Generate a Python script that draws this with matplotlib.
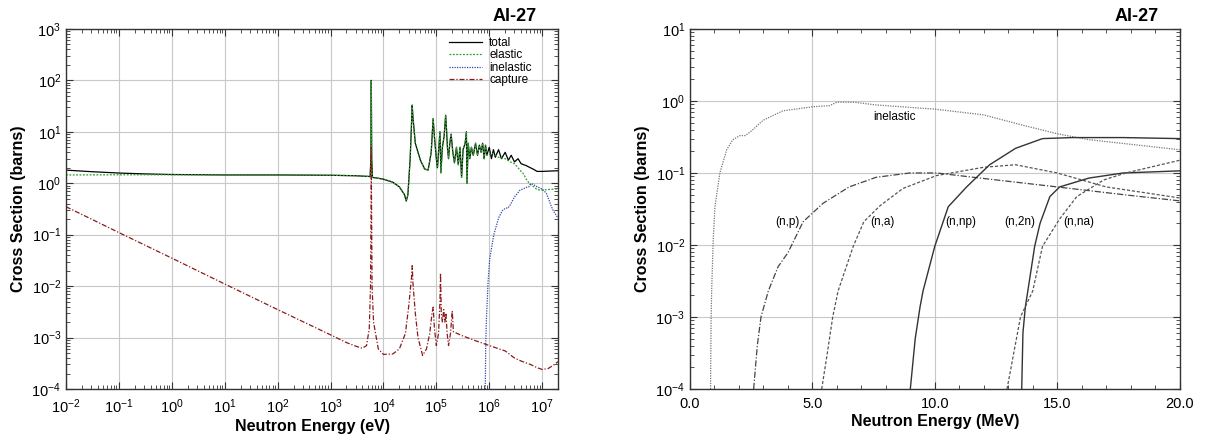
import numpy as np
import matplotlib
matplotlib.use('Agg')
import matplotlib.pyplot as plt
from matplotlib.ticker import LogLocator, MultipleLocator, FormatStrFormatter, NullFormatter

plt.rcParams['font.family'] = ['Liberation Sans', 'DejaVu Sans']
plt.rcParams['mathtext.default'] = 'regular'

# ---- linker grafiek: werkzame doorsneden in eV ----
total_e = [1e-2, 3e-2, 1e-1, 3e-1, 1, 10, 100, 1e3, 3e3, 5e3, 5.6e3, 5.8e3, 5.9e3, 6.0e3, 6.2e3,
           8e3, 1e4, 1.5e4, 2e4, 2.5e4, 2.7e4, 2.9e4, 3.2e4, 3.4e4, 3.5e4, 3.6e4, 4e4, 5e4, 6e4,
           7e4, 8e4, 8.7e4, 9.2e4, 1.0e5, 1.05e5, 1.1e5, 1.17e5, 1.22e5, 1.3e5, 1.4e5, 1.5e5,
           1.55e5, 1.62e5, 1.7e5, 1.8e5, 1.9e5, 2.05e5, 2.2e5, 2.4e5, 2.6e5, 2.8e5, 3.0e5, 3.2e5,
           3.5e5, 3.7e5, 3.8e5, 4.0e5, 4.3e5, 4.6e5, 5e5, 5.5e5, 6e5, 6.5e5, 7e5, 7.5e5, 8e5,
           8.5e5, 9e5, 1e6, 1.1e6, 1.2e6, 1.3e6, 1.5e6, 1.7e6, 2e6, 2.3e6, 2.6e6, 3e6, 3.5e6,
           4e6, 5e6, 6e6, 7e6, 8e6, 1e7, 1.3e7, 2e7]
total_v = [1.8, 1.68, 1.58, 1.52, 1.48, 1.45, 1.45, 1.43, 1.40, 1.36, 1.35, 3.0, 100, 3.0, 1.3,
           1.25, 1.2, 1.05, 0.85, 0.6, 0.45, 0.6, 3.0, 15, 33, 20, 6.0, 2.8, 1.9,
           1.8, 4.0, 18, 8.0, 3.0, 2.0, 4.0, 10, 1.6, 5.0, 8.0, 21,
           12, 5.0, 3.0, 6.0, 9.0, 4.0, 2.5, 5.0, 2.3, 5.0, 1.3, 4.5,
           6.0, 10, 1.0, 6.0, 3.0, 5.0, 3.5, 6.0, 3.5, 5.5, 4.0, 6.0, 3.0,
           5.5, 3.5, 5.0, 3.0, 4.5, 3.2, 4.5, 3.0, 4.0, 2.8, 3.5, 2.6, 3.0,
           2.4, 2.2, 2.0, 1.85, 1.7, 1.7, 1.72, 1.75]

# elastisch valt samen met totaal in het resonantiegebied (5.6 keV t/m 1 MeV)
elastic_low_e = [1e-2, 1e-1, 1, 10, 100, 1e3, 3e3, 5e3]
elastic_low_v = [1.45, 1.46, 1.46, 1.45, 1.45, 1.43, 1.40, 1.36]
elastic_high_e = [1.2e6, 1.5e6, 2e6, 2.5e6, 3e6, 3.5e6, 4e6, 4.5e6, 5e6, 5.5e6, 6e6, 7e6, 8e6, 1e7, 2e7]
elastic_high_v = [3.8, 3.2, 3.0, 2.6, 2.4, 2.0, 1.7, 1.5, 1.2, 1.05, 0.95, 0.85, 0.75, 0.74, 0.78]

capture_e = [1e-2, 1e-1, 1, 10, 100, 1e3, 2e3, 3e3, 4e3, 4.8e3, 5.4e3, 5.7e3, 5.85e3, 5.9e3, 5.95e3,
             6.1e3, 6.5e3, 8e3, 1e4, 1.5e4, 2e4, 2.6e4, 3e4, 3.4e4, 3.5e4, 3.6e4, 4e4, 4.5e4, 5.5e4,
             6.5e4, 7.5e4, 8.3e4, 8.7e4, 9.2e4, 1e5, 1.1e5, 1.17e5, 1.2e5, 1.24e5, 1.3e5, 1.38e5,
             1.45e5, 1.52e5, 1.6e5, 1.7e5, 1.85e5, 2e5, 2.1e5, 3e5, 5e5, 1e6, 2e6, 3e6, 4e6, 6e6,
             8e6, 1e7, 1.3e7, 1.7e7, 2e7]
capture_v = [0.35, 0.11, 0.035, 0.011, 0.0035, 0.00113, 0.0008, 0.00068, 0.00062, 0.0007, 0.0015, 0.01, 0.5, 5.0, 0.5,
             0.01, 0.002, 0.0006, 0.00047, 0.00048, 0.0006, 0.0012, 0.004, 0.015, 0.025, 0.012, 0.003, 0.001, 0.00045,
             0.0006, 0.0012, 0.003, 0.0039, 0.0015, 0.0007, 0.0012, 0.005, 0.018, 0.003, 0.002, 0.0035,
             0.002, 0.003, 0.0012, 0.0007, 0.0012, 0.0033, 0.0013, 0.0011, 0.0009, 0.0007, 0.00055, 0.0004, 0.00035, 0.0003,
             0.00026, 0.00024, 0.00025, 0.0003, 0.00034]

# ---- rechter grafiek: drempelreacties in MeV ----
inel_e = [0.84, 0.86, 0.885, 0.95, 1.02, 1.22, 1.5, 1.75, 2.04, 2.25, 2.5, 2.99, 3.8, 5.0, 5.7,
          6.0, 6.7, 7.6, 10.0, 12.0, 13.6, 15.0, 16.3, 20.0]
inel_v = [1e-4, 8e-4, 2.3e-3, 0.012, 0.034, 0.1, 0.21, 0.29, 0.33, 0.33, 0.38, 0.54, 0.73, 0.83, 0.86,
          0.96, 0.96, 0.88, 0.77, 0.64, 0.46, 0.35, 0.29, 0.21]

np_e = [2.6, 2.75, 2.9, 3.2, 3.6, 4.0, 4.62, 5.44, 6.5, 7.6, 8.98, 10.07, 12.24, 15.0, 17.7, 20.0]
np_v = [1e-4, 4e-4, 1e-3, 2.3e-3, 5e-3, 7.8e-3, 0.021, 0.038, 0.064, 0.087, 0.1, 0.1, 0.082, 0.064, 0.05, 0.041]

na_e = [5.38, 5.6, 5.83, 6.05, 6.67, 7.1, 7.76, 8.7, 10.07, 12.0, 13.3, 15.0, 17.0, 20.0]
na_v = [1e-4, 3e-4, 1e-3, 2.3e-3, 9.6e-3, 0.021, 0.035, 0.061, 0.092, 0.12, 0.13, 0.1, 0.064, 0.045]

nnp_e = [9.0, 9.2, 9.4, 9.52, 10.0, 10.55, 11.3, 12.24, 13.3, 14.4, 15.6, 17.7, 20.0]
nnp_v = [1e-4, 5e-4, 1.4e-3, 2.3e-3, 9.6e-3, 0.034, 0.064, 0.13, 0.22, 0.3, 0.31, 0.31, 0.3]

n2n_e = [13.55, 13.6, 13.7, 13.8, 14.08, 14.3, 14.7, 15.1, 16.3, 17.7, 20.0]
n2n_v = [1e-4, 6e-4, 1.4e-3, 2.3e-3, 9.6e-3, 0.02, 0.047, 0.064, 0.085, 0.1, 0.107]

nna_e = [12.95, 13.5, 14.0, 14.4, 15.1, 15.8, 16.9, 17.8, 20.0]
nna_v = [1e-4, 1e-3, 2.3e-3, 9.6e-3, 0.023, 0.047, 0.08, 0.1, 0.15]

labels_txt = ['(n,p)', '(n,a)', '(n,np)', '(n,2n)', '(n,na)']
labels_x = [4.0, 7.88, 11.05, 13.47, 15.9]

elastic_e = elastic_low_e + total_e[10:68] + elastic_high_e
elastic_v = elastic_low_v + total_v[10:68] + elastic_high_v

fig = plt.figure(figsize=(12.09, 4.37), dpi=100)
ax1 = fig.add_axes([0.0546, 0.1098, 0.407, 0.824])
ax2 = fig.add_axes([0.5707, 0.1098, 0.405, 0.824])

for ax in (ax1, ax2):
    ax.grid(True, which='major', color='#c8c8c8', lw=0.8)
    ax.set_axisbelow(True)
    ax.tick_params(which='both', direction='in', top=True, right=True, colors='#333333', labelcolor='black',
                   labelsize=10.5)
    ax.tick_params(which='major', length=5)
    ax.tick_params(which='minor', length=3)
    ax.tick_params(axis='x', which='major', pad=6)
    for s in ax.spines.values():
        s.set_color('#333333')
        s.set_linewidth(1.0)
    ax.set_ylabel('Cross Section (barns)', fontsize=11.5, fontweight='bold')
    ax.text(1 - 21 / 490, 1.012, 'Al-27', transform=ax.transAxes, ha='right', va='bottom',
            fontsize=13, fontweight='bold')

# linker grafiek
ax1.plot(total_e, total_v, color='black', lw=0.9, label='total')
ax1.plot(elastic_e, elastic_v, color='#2ca02c', lw=0.9, ls=(0, (1.5, 1.2)), label='elastic')
ax1.plot(np.array(inel_e) * 1e6, inel_v, color='#3344aa', lw=0.9, ls=(0, (1, 1)), label='inelastic')
ax1.plot(capture_e, capture_v, color='#8b1a1a', lw=0.9, ls=(0, (4, 1.5, 1, 1.5)), label='capture')
ax1.set_xscale('log')
ax1.set_yscale('log')
ax1.set_xlim(1e-2, 2e7)
ax1.set_ylim(1e-4, 1e3)
ax1.xaxis.set_major_locator(LogLocator(base=10, numticks=20))
ax1.xaxis.set_minor_locator(LogLocator(base=10, subs=np.arange(2, 10), numticks=20))
ax1.xaxis.set_minor_formatter(NullFormatter())
ax1.yaxis.set_minor_locator(LogLocator(base=10, subs=np.arange(2, 10), numticks=20))
ax1.yaxis.set_minor_formatter(NullFormatter())
ax1.set_xlabel('Neutron Energy (eV)', fontsize=11.5, fontweight='bold', labelpad=2)
ax1.legend(loc='upper right', bbox_to_anchor=(0.956, 0.99), frameon=False, fontsize=8.5,
           handlelength=2.8, labelspacing=0.02, borderaxespad=0.0, handletextpad=0.6)

# rechter grafiek
ax2.plot(inel_e, inel_v, color='#777777', lw=0.9, ls=(0, (1, 1)))
ax2.plot(np_e, np_v, color='#444444', lw=0.9, ls=(0, (5, 1.5, 1, 1.5)))
ax2.plot(na_e, na_v, color='#555555', lw=0.9, ls=(0, (2.5, 1.5)))
ax2.plot(nnp_e, nnp_v, color='#333333', lw=1.0)
ax2.plot(n2n_e, n2n_v, color='#333333', lw=1.0)
ax2.plot(nna_e, nna_v, color='#555555', lw=0.9, ls=(0, (2.5, 1.5)))
ax2.text(8.37, 0.6, 'inelastic', fontsize=8.5, ha='center', va='center')
for t, x in zip(labels_txt, labels_x):
    ax2.text(x, 0.021, t, fontsize=8.5, ha='center', va='center')
ax2.set_yscale('log')
ax2.set_xlim(0, 20)
ax2.set_ylim(1e-4, 10)
ax2.xaxis.set_major_locator(MultipleLocator(5))
ax2.xaxis.set_minor_locator(MultipleLocator(1))
ax2.xaxis.set_major_formatter(FormatStrFormatter('%.1f'))
ax2.yaxis.set_minor_locator(LogLocator(base=10, subs=np.arange(2, 10), numticks=20))
ax2.yaxis.set_minor_formatter(NullFormatter())
ax2.set_xlabel('Neutron Energy (MeV)', fontsize=11.5, fontweight='bold', labelpad=2)

fig.savefig('out.png', dpi=100)
